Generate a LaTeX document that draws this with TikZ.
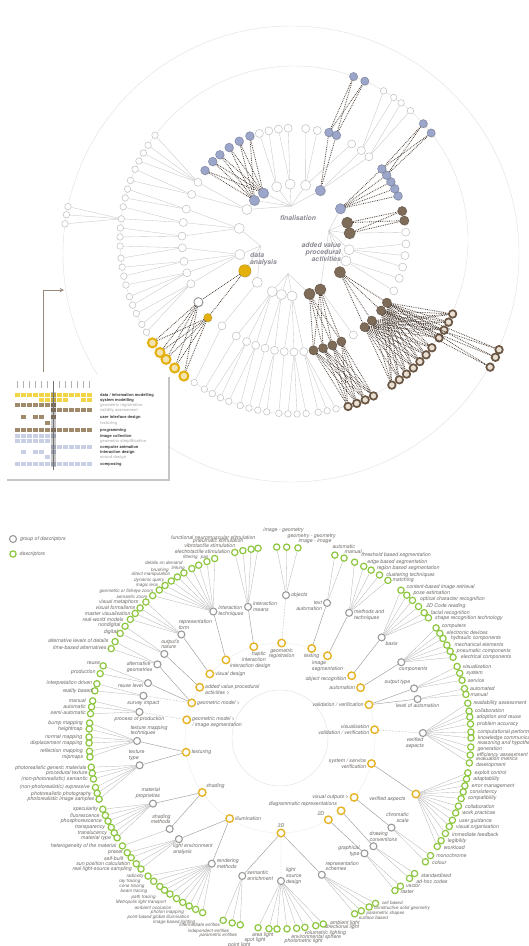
\documentclass[tikz,border=0pt]{standalone}
\usepackage{fontspec}
\setmainfont{TeX Gyre Heros}
\usetikzlibrary{arrows,shadows}

\definecolor{lavender}{HTML}{9CA6CB}
\definecolor{bark}{HTML}{7E6C59}
\definecolor{barkring}{HTML}{6A5643}
\definecolor{barkfill}{HTML}{E9DFD3}
\definecolor{gold}{HTML}{E4B10C}
\definecolor{goldfill}{HTML}{F3E3AE}
\definecolor{chaincol}{HTML}{4F4137}
\definecolor{leaf}{HTML}{8DC63F}
\definecolor{stone}{HTML}{9C9A98}
\definecolor{ochre}{HTML}{E6B325}
\definecolor{ink}{HTML}{6F6B68}
\definecolor{hubtxt}{HTML}{8A8A94}
\definecolor{keyyel}{HTML}{F2D447}
\definecolor{keybrn}{HTML}{A08A6C}
\definecolor{keyblu}{HTML}{C9CFE4}

\tikzset{
  bead/.style={circle,inner sep=0pt,line width=0.5pt},
  shade/.style={drop shadow={opacity=0.3,shadow xshift=0.7pt,shadow yshift=-0.9pt}},
  opn/.style={bead,draw=black!25,fill=white},
  wsh/.style={bead,draw=black!45,fill=white,line width=0.8pt,shade},
  blu/.style={bead,draw=lavender!80!black,fill=lavender,shade},
  brn/.style={bead,draw=bark!80!black,fill=bark,shade},
  brr/.style={bead,draw=barkring,fill=barkfill,line width=1.7pt,shade},
  ylw/.style={bead,draw=gold!85!black,fill=gold,shade},
  ylr/.style={bead,draw=gold,fill=goldfill,line width=2pt,shade},
  twig/.style={draw=black!22,line width=0.35pt},
  chain/.style={draw=chaincol,densely dotted,line width=0.8pt},
  guide/.style={draw=black!12,line width=0.4pt},
  hublabel/.style={font=\fontsize{6.8}{7.4}\selectfont\bfseries\itshape,text=hubtxt,inner sep=0pt},
  topic/.style={circle,draw=ochre,line width=1.4pt,fill=white,inner sep=0pt,minimum size=7.5pt},
  facet/.style={circle,draw=stone,line width=1.1pt,fill=white,inner sep=0pt,minimum size=7pt},
  leafnode/.style={circle,draw=leaf,line width=1.2pt,fill=white,inner sep=0pt,minimum size=6.3pt},
  lbl/.style={font=\fontsize{5.2}{5.8}\selectfont\itshape,text=ink,inner sep=0.8pt},
  small/.style={font=\fontsize{4.6}{5}\selectfont\itshape,inner sep=0.4pt},
  link/.style={draw=black!38,line width=0.45pt},
  linkdot/.style={link,densely dotted},
  stem/.style={draw=black!30,line width=0.3pt},
  keytxt/.style={font=\fontsize{4}{4.4}\selectfont\bfseries,text=black!75,anchor=west,inner sep=0pt},
  keydim/.style={keytxt,text=black!25},
  pointer/.style={draw=bark!80,line width=1pt,-stealth}
}

% leaves of one descriptor group: name, parent, label side, label options, angle/dx/dy/text
\newcommand{\leafgroup}[5]{%
  \foreach \a/\dx/\dy/\t [count=\i] in {#5}{
    \node[leafnode,label={[lbl,#4,xshift=\dx pt,yshift=\dy pt]#3:\t}] (#1-\i) at (\a:191) {};
    \draw[stem] (#2) -- (#1-\i);
  }}

\begin{document}
\begin{tikzpicture}[x=1pt,y=-1pt]
\useasboundingbox (0,0) rectangle (528,946);
\fill[white] (0,0) rectangle (528,946);

%%% upper picture: radial tree
\draw[guide] (291,254) circle[radius=228];
\begin{scope}[shift={(294,240)}]
  \draw[guide] (0,0) circle[radius=174];

  % level 1
  \foreach \a in {131,113,103,92,22,10,282,266,252,213,192,165}
    \node[opn,minimum size=10pt] (t1-\a) at (\a:56) {};
  \foreach \a in {74,62,35,353,342}
    \node[brn,minimum size=11pt] (t1-\a) at (\a:56) {};
  \foreach \a in {326,298,237,225}
    \node[blu,minimum size=10pt] (t1-\a) at (\a:56) {};
  \node[ylw,minimum size=12pt] (t1-148) at (148:58) {};

  % level 2
  \foreach \a in {211,204,196,189,182,176,169,163,157,130,121,115,110,105,100,95,90,85,58,27,20,14,8,2,356,312,307,301,282,276,267,262,257,252}
    \node[opn,minimum size=8pt] (t2-\a) at (\a:112) {};
  \node[wsh,minimum size=9pt] (t2-147) at (147:114) {};
  \node[ylw,minimum size=8pt] (t2-138) at (138:116) {};
  \foreach \a in {80,75,70,65,51,46,39,34,350,345}
    \node[brn,minimum size=9pt] (t2-\a) at (\a:112) {};
  \foreach \a in {337,333,329,325,321,292,288,247,241,235,229,224,218}
    \node[blu,minimum size=8.5pt] (t2-\a) at (\a:113) {};

  % level 3
  \foreach \a in {76,79,82,86,89,92,95,99,102,105,108,112,115,118,121,125,148,151,155,158,161,165,168,171,174,178,181,184,187,191,194,197,200,204,207,210,213,217,301,305,308,312}
    \node[opn,minimum size=6.5pt] (t3-\a) at (\a:174) {};
  \foreach \a in {129,133,137,140,144}
    \node[ylr,minimum size=9pt] (t3-\a) at (\a:175) {};
  \foreach \a in {25,28,31,34,38,41,44,47,50,53,56,63,66,69,72}
    \node[brr,minimum size=7.5pt] (t3-\a) at (\a:175) {};
  \foreach \a in {290,294,318,322}
    \node[blu,minimum size=8pt] (t3-\a) at (\a:174) {};

  % hubs
  \coordinate (hubF) at (265:34);
  \coordinate (hubD) at (170:34);
  \coordinate (hubB) at (100:34);
  \coordinate (hubA) at (345:36);
\end{scope}
\begin{scope}[shift={(291,254)}]
  \foreach \a [count=\i] in {192,189.9,187.6}
    \node[opn,minimum size=6.5pt] (t4-o\i) at (\a:228) {};
  \foreach \a [count=\i] in {29.6,26.8,24.7}
    \node[brr,minimum size=7.5pt] (t4-b\i) at (\a:229) {};
\end{scope}

% plain links
\foreach \a in {298,282,266,252,237,225,213} \draw[twig] (hubF) -- (t1-\a);
\foreach \a in {192,165,148,131} \draw[twig] (hubD) -- (t1-\a);
\foreach \a in {113,103,92,74} \draw[twig] (hubB) -- (t1-\a);
\foreach \a in {62,35,22,10,353,342,326} \draw[twig] (hubA) -- (t1-\a);
\foreach \c/\p in {211/213,204/213,196/192,189/192,182/192,176/165,169/165,163/165,157/165,130/131,121/113,115/113,110/113,105/103,100/103,95/92,90/92,85/92,58/62,27/22,20/22,14/10,8/10,2/10,356/353,312/298,307/298,301/282,282/282,276/282,267/266,262/266,257/252,252/252}
  \draw[twig] (t1-\p) -- (t2-\c);
\foreach \c/\p in {76/85,79/85,82/85,86/90,89/90,92/90,95/95,99/100,102/100,105/105,108/110,112/110,115/115,118/115,121/121,125/130,148/157,151/157,155/157,158/163,161/163,165/163,168/169,171/169,174/176,178/176,181/182,184/182,187/189,191/189,194/196,197/196,200/204,204/204,207/211,210/211,213/211,217/211,301/307,305/307,308/312,312/312}
  \draw[twig] (t2-\p) -- (t3-\c);
\foreach \i in {1,2,3} \draw[twig] (t3-187) -- (t4-o\i);

% coloured chains
\foreach \p in {237,225} \foreach \c in {247,241,235,229,224,218} \draw[chain] (t1-\p) -- (t2-\c);
\foreach \c in {292,288} \draw[chain] (t1-298) -- (t2-\c);
\foreach \p in {292,288} \foreach \c in {290,294} \draw[chain] (t2-\p) -- (t3-\c);
\foreach \c in {337,333,329,325,321} \draw[chain] (t1-326) -- (t2-\c);
\foreach \p in {321,325} \foreach \c in {318,322} \draw[chain] (t2-\p) -- (t3-\c);
\foreach \p in {353,342} \foreach \c in {350,345} \draw[chain] (t1-\p) -- (t2-\c);
\foreach \c in {51,46,39,34} \draw[chain] (t1-35) -- (t2-\c);
\foreach \p in {51,46,39,34} \foreach \c in {25,28,31,34,38,41,44,47,50,53,56} \draw[chain] (t2-\p) -- (t3-\c);
\foreach \p in {34,39} \foreach \i in {1,2,3} \draw[chain] (t2-\p) -- (t4-b\i);
\foreach \p in {74,62} \foreach \c in {80,75,70,65} \draw[chain] (t1-\p) -- (t2-\c);
\foreach \p in {80,75,70,65} \foreach \c in {63,66,69,72} \draw[chain] (t2-\p) -- (t3-\c);
\foreach \c in {147,138} \draw[chain] (t1-148) -- (t2-\c);
\foreach \p in {138,147} \foreach \c in {129,133,137,140,144} \draw[chain] (t2-\p) -- (t3-\c);

\node[hublabel] (finlab) at (298,218) {finalisation};
\node[hublabel,align=left,anchor=west] (datlab) at (250,259) {data\\analysis};
\node[hublabel,align=right,anchor=east] (addlab) at (341,252) {added value\\procedural\\activities};

% inset key
\fill[white,drop shadow={opacity=0.45,shadow xshift=1.5pt,shadow yshift=-1.5pt}] (5,375) rectangle (168,479);
\foreach \k in {1,...,13} \draw[black!30,line width=1pt] ({6*\k+11.5},381) -- ++(0,7);
\foreach \y/\c/\cols in {395/keyyel/{1,...,13},400/keyyel/{5,6,7,8,9,12,13},405/keybrn/{1,...,7},410/keybrn/{7,...,13},417/keybrn/{2,4,5,7},423/keybrn/{6},430/keybrn/{1,...,13},436/keyblu/{1,...,7},441/keyblu/{1,...,6},447/keyblu/{7,...,13},452/keyblu/{2,4,5,7},457/keyblu/{6},464/keyblu/{1,...,13}}
  \foreach \k in \cols \fill[\c] ({6*\k+9},\y-2) rectangle ++(5,4.2);
\fill[black,opacity=0.22] (51,392) rectangle (56,467);
\draw[black!55,line width=0.7pt] (53.5,381) -- (53.5,470);
\foreach \y/\t/\s in {395/{data / information modelling}/keytxt,400/{system modelling}/keytxt,405/{geometric registration}/keydim,410/{validity assessment}/keydim,417/{user interface design}/keytxt,423/{texturing}/keydim,430/{programming}/keytxt,436/{image collection}/keytxt,441/{geometric simplification}/keydim,447/{computer animation}/keytxt,452/{interaction design}/keytxt,457/{sound design}/keydim,464/{composing}/keytxt}
  \node[\s] at (100,\y) {\t};
\coordinate (keytop) at (43,372);
\coordinate (keytip) at (64,290);
\draw[pointer] (keytop) |- (keytip);

%%% lower picture: descriptors
\node[facet,label={[lbl,xshift=2pt]right:group of descriptors}] (keyfacet) at (13,539) {};
\node[leafnode,label={[lbl,xshift=2pt]right:descriptors}] (keyleaf) at (13,554) {};

\begin{scope}[shift={(280,738)}]
  \draw[guide] (0,0) circle[radius=48];
  \draw[guide,draw=black!7] (0,0) circle[radius=95];

  % topics
  \node[topic,label={[lbl,align=right]below:haptic\\interaction}] (haptic) at (254:95) {};
  \node[topic,label={[lbl,align=center]below:geometric\\registration}] (georeg) at (271:95) {};
  \node[topic,label={[lbl]below:testing}] (testing) at (289.5:95) {};
  \node[topic,label={[lbl,align=left]below:image\\segmentation}] (imgseg) at (300:95) {};
  \node[topic,label={[lbl,yshift=-3pt]left:object recognition}] (objrec) at (319:95) {};
  \node[topic,label={[lbl]left:automation}] (autom) at (328:95) {};
  \node[topic,label={[lbl]left:validation / verification}] (valver) at (339.5:95) {};
  \node[topic,label={[lbl,align=right]left:visualisation\\validation / verification}] (visval) at (355:95) {};
  \node[topic,label={[lbl,align=right]left:system / service\\verification}] (sysver) at (15.6:95) {};
  \node[topic,label={[lbl]left:visual outputs >}] (visout) at (38.7:95) {};
  \node[topic,label={[lbl]above left:diagrammatic representations}] (diagrep) at (50:95) {};
  \node[topic,label={[lbl]above left:2D}] (twod) at (59.4:95) {};
  \node[topic,label={[lbl]above:3D}] (threed) at (89.4:95) {};
  \node[topic,label={[lbl]right:illumination}] (illum) at (122:95) {};
  \node[topic,label={[lbl]above right:shading}] (shading) at (145:95) {};
  \node[topic,label={[lbl]right:texturing}] (texturing) at (171.4:95) {};
  \node[topic,label={[lbl,align=left,yshift=-2.5pt]right:geometric model >\\/ image segmentation}] (gmimg) at (191:95) {};
  \node[topic,label={[lbl]right:geometric model >}] (gm) at (201.7:95) {};
  \node[topic,label={[lbl,align=left,yshift=-2.5pt]right:added value procedural\\activities >}] (addval) at (212.3:95) {};
  \node[topic,label={[lbl]right:visual design}] (visdes) at (222.4:95) {};
  \node[topic,label={[lbl]below right:interaction design}] (intdes) at (235.3:95) {};
  \node[topic,label={[lbl,xshift=-5pt,yshift=-5pt]left:verified aspects}] (veraspy) at (22.4:147) {};

  % groups of descriptors
  \node[facet,label={[lbl,align=left]right:interaction\\means}] (intmeans) at (256.3:135) {};
  \node[facet,label={[lbl,align=left]right:interaction\\techniques}] (inttech) at (242.2:143) {};
  \node[facet,label={[lbl,align=left,xshift=14pt]above:representation\\form}] (repform) at (226.4:143) {};
  \node[facet,label={[lbl,align=left,xshift=6pt]above:output's\\nature}] (outnat) at (216:143) {};
  \node[facet,label={[lbl,align=left,yshift=-3pt]left:alternative\\geometries}] (altgeo) at (211:143) {};
  \node[facet,label={[lbl,yshift=-3pt]left:reuse level}] (reuselvl) at (202.6:143) {};
  \node[facet,label={[lbl]below:survey impact}] (survey) at (197.2:143) {};
  \node[facet,label={[lbl]below:process of production}] (procprod) at (190.5:143) {};
  \node[facet,label={[lbl,align=left,xshift=12pt]above:texture mapping\\techniques}] (texmap) at (178.8:143) {};
  \node[facet,label={[lbl,align=left,xshift=-3pt]above:texture\\type}] (textype) at (169:143) {};
  \node[facet,label={[lbl,align=right,xshift=-5pt]above:material\\proprieties}] (matprop) at (152.7:143) {};
  \node[facet,label={[lbl,align=right,xshift=-9pt]above:shading\\methods}] (shmeth) at (140.5:143) {};
  \node[facet,label={[lbl,align=left,xshift=14pt]below:light environment\\analysis}] (lightenv) at (135:143) {};
  \node[facet,label={[lbl,align=left]right:rendering\\methods}] (rendmeth) at (118.5:143) {};
  \node[facet,label={[lbl,align=left]right:semantic\\enrichment}] (semenr) at (105.3:143) {};
  \node[facet,label={[lbl,align=left,yshift=5pt]right:light\\source\\design}] (lsdesign) at (89.6:143) {};
  \node[facet,label={[lbl,align=left]above right:representation\\schemes}] (repsch) at (73:143) {};
  \node[facet,label={[lbl,align=right,yshift=2pt]left:graphical\\type}] (graphtype) at (53.8:143) {};
  \node[facet,label={[lbl,align=left,xshift=10pt]above:drawing\\conventions}] (drawconv) at (49.2:143) {};
  \node[facet,label={[lbl,align=right,xshift=6pt]above:chromatic\\scale}] (chroma) at (38.8:143) {};
  \node[facet,label={[lbl,align=center,xshift=-8pt]below:verified\\aspects}] (veraspg) at (358:143) {};
  \node[facet,label={[lbl]below:level of automation}] (levauto) at (344.2:143) {};
  \node[facet,label={[lbl]above left:output type}] (outtype) at (339.7:143) {};
  \node[facet,label={[lbl,xshift=12pt]below:components}] (compon) at (328:143) {};
  \node[facet,label={[lbl]below right:basis}] (basis) at (315.3:143) {};
  \node[facet,label={[lbl,align=left,yshift=-2pt]right:methods and\\techniques}] (methtech) at (298.9:143) {};
  \node[facet,label={[lbl,align=right,yshift=-3pt]left:text\\automation}] (textauto) at (289.2:143) {};
  \node[facet,label={[lbl]right:objects}] (objects) at (272.4:143) {};

  \draw[link] (intmeans) -- (haptic);
  \draw[link] (inttech) -- (intdes);
  \draw[link] (repform) -- (visdes);
  \draw[link] (outnat) -- (addval);
  \draw[link] (altgeo) -- (gm);
  \draw[link] (reuselvl) -- (gm);
  \draw[linkdot] (survey) -- (gm);
  \draw[linkdot] (procprod) -- (gmimg);
  \draw[link] (texmap) -- (texturing);
  \draw[link] (textype) -- (texturing);
  \draw[link] (matprop) -- (shading);
  \draw[link] (shmeth) -- (shading);
  \draw[link] (lightenv) -- (illum);
  \draw[link] (rendmeth) -- (illum);
  \draw[link] (semenr) -- (threed);
  \draw[linkdot] (lsdesign) -- (threed);
  \draw[link] (repsch) -- (threed);
  \draw[link] (graphtype) -- (twod);
  \draw[link] (drawconv) -- (diagrep);
  \draw[link] (chroma) -- (visout);
  \draw[link] (sysver) -- (veraspy);
  \draw[linkdot] (visval) -- (veraspg);
  \draw[link] (valver) -- (levauto);
  \draw[link] (valver) -- (outtype);
  \draw[link] (autom) -- (compon);
  \draw[link] (objrec) -- (basis);
  \draw[link] (imgseg) -- (methtech);
  \draw[link] (testing) -- (textauto);
  \draw[linkdot] (georeg) -- (objects);

  % descriptors
  \leafgroup{lA}{intmeans}{left}{}{256.3/0/1/electrotactile stimulation,258.8/-3/5/vibrotactile stimulation,261.3/-3/8/pneumatic stimulation,263.4/2/11/functional neuromuscular stimulation}
  \leafgroup{lB}{inttech}{left}{small}{250/-1.8/1/pan,247.5/-4.8/4/filtering,244.8/-11.8/2.5/details on demand,242.5/-2.8/0/linking,239.8/-10.8/3/brushing,237.5/-2.8/2.5/direct manipulation,235.3/-2.8/1/dynamic query,233/-2.8/0.5/magic lens,230.8/-1.8/-1/geometric or fisheye zoom,228.2/-0.8/-1.5/semantic zoom}
  \leafgroup{lC}{repform}{left}{}{225.4/-3/0/visual metaphors,222.9/0/0.5/visual formalisms,220.7/0/0/master visualisation,218.4/-2/0/real-world models}
  \leafgroup{lD}{outnat}{left}{}{215.8/0/1/nondigital,213.2/2/1/digital}
  \leafgroup{lE}{altgeo}{left}{}{210.3/-2/1/alternative levels of details,207.9/0/1/time-based alternatives}
  \leafgroup{lF}{reuselvl}{left}{}{202.2/1.5/3/reuse,199.7/0/1/production}
  \leafgroup{lG}{survey}{left}{}{196.5/0/1/interpretation driven,194.3/2/0/reality based}
  \leafgroup{lH}{procprod}{left}{}{191.2/-2/0/manual,189.4/-1/0/automatic,187.3/0/1/semi-automatic}
  \leafgroup{lI}{texmap}{left}{}{184.5/-2/0/bump mapping,182.7/-2/0/heightmap,180.3/-2/0/normal mapping,178.5/-2/0/displacement mapping,176/-2/0/reflection mapping,174.3/-2/0/mipmaps}
  \leafgroup{lJ}{textype}{left}{}{171.2/0/-1/photorealistic generic materials,169.4/0/0/procedural texture,167.6/-1/0/{(non-photorealistic) semantic},165/-1/0/{(non-photorealistic) expressive},163.2/-1/-1/photorealistic photography,161.3/0/0/photorealistic image samples}
  \leafgroup{lK}{matprop}{left}{}{158.1/0/0/specularity,156.1/-1/0/fluorescence,154.2/-1.5/0/phosphorescence,152.1/-1.5/0/transparency,150.2/-2.5/0/translucency,148.5/-1.5/0/material type}
  \leafgroup{lKb}{shmeth}{left}{}{145.6/-1.5/0/heterogeneity of the material}
  \leafgroup{lL}{lightenv}{left}{}{143.1/0/0/preset,141.2/-3/-1/self-built,138.8/-1.5/0/sun position calculation,136.7/-4.5/0/real light-source sampling}
  \leafgroup{lM}{rendmeth}{left}{small}{133.7/0/0/radiosity,131.4/-9/0/ray tracing,129/-11/0/cone tracing,127.2/-13/-1/beam tracing,125.2/-10/-3/path tracing,122.8/-6/-4/Metropolis light transport,120.6/-7/-5/ambient occlusion,118.4/-1/-6/photon mapping,116.2/-2/-8/point-based global illumination,113.9/-3/-10/image based lighting}
  \leafgroup{lN}{semenr}{below left}{small}{107.3/0/0/intermediate entities,104.5/0/-2.5/independent entities,102/0/-5.5/parametric entities}
  \leafgroup{lO}{lsdesign}{below left}{}{96.6/-4/-11/point light,93.3/0/-5/spot light,90.9/0/0/area light}
  \leafgroup{lOb}{lsdesign}{below right}{}{87.9/-6/-6/photometric light,85/-9/-3/environmental sphere,82.5/-4/0/volumetric lighting}
  \leafgroup{lOc}{lsdesign}{right}{}{79.2/4/-2/directional light,76.9/2/1/ambient light}
  \leafgroup{lP}{repsch}{right}{small}{60/2/1/cell based,62.2/1/-1.5/constructive solid geometry,64.8/1/-2/parametric shapes,67/0/-4.5/surface based}
  \leafgroup{lQ}{graphtype}{right}{}{50.9/1/0/vector,53/1/-1/raster}
  \leafgroup{lR}{drawconv}{right}{}{45.2/2/-2/standardised,47.3/2/-3/ad-hoc codes}
  \leafgroup{lS}{chroma}{right}{}{38/1/0/monochrome,40.4/2/-1/colour}
  \leafgroup{lT}{veraspy}{right}{}{10.5/2/0/exploit control,12.4/2/0/adaptability,14.5/2/0/error management,16.4/2/0/consistency,18.5/2/0/compatibility,20.9/2/0/collaboration,23.1/2/0/work practices,25.5/2/-1/user guidance,27.6/2/-1/visual organisation,30/2/-1/immediate feedback,32.5/2/-1/legibility,34.6/2/-1/workload}
  \leafgroup{lU}{veraspg}{right}{align=left}{349.5/1/0/readability assessment,351.9/1/0/collaboration,353.7/2/0/adoption and reuse,355.8/2/0/problem accuracy,358.2/2/0/computational performance,0/2/0/knowledge communication,2.7/2/1/reasoning and hypothesis\\generation,5.1/2/0/efficiency assessment,7.5/2/1/evaluation metrics\\development}
  \leafgroup{lV}{levauto}{right}{}{345/1/0/automated,346.8/0/0/manual}
  \leafgroup{lW}{outtype}{right}{}{338/1/0/visualisation,340.2/2/0/system,342.4/1/0/service}
  \leafgroup{lX}{compon}{right}{}{324.8/1/2/computers,326.8/2/1/electronic devices,328.6/3/0/hydraulic components,330.9/3/0/mechanical elements,333/2/0/pneumatic components,335/3/0/electrical components}
  \leafgroup{lY}{basis}{right}{}{309.3/1/3/content-based image retrieval,311.6/2/2/pose estimation,313.9/3/1/optical character recognition,316.5/3/0/2D Code reading,319/2/0/facial recognition,321/2/0/shape recognition technology}
  \leafgroup{lZ}{methtech}{right}{}{293/2/7/threshold based segmentation,296/-1/4/edge based segmentation,298.5/1/2/region based segmentation,301.4/2/0/clustering techniques,304.4/0/0/matching}
  \leafgroup{lAA}{textauto}{above right}{}{286.7/-6/3/automatic,289.6/-3/1/manual}
  \leafgroup{lAB}{objects}{above}{}{269/7/10/image - geometry,272/25/4/geometry - geometry,275.4/17/-1/image - image}
\end{scope}
\end{tikzpicture}
\end{document}
